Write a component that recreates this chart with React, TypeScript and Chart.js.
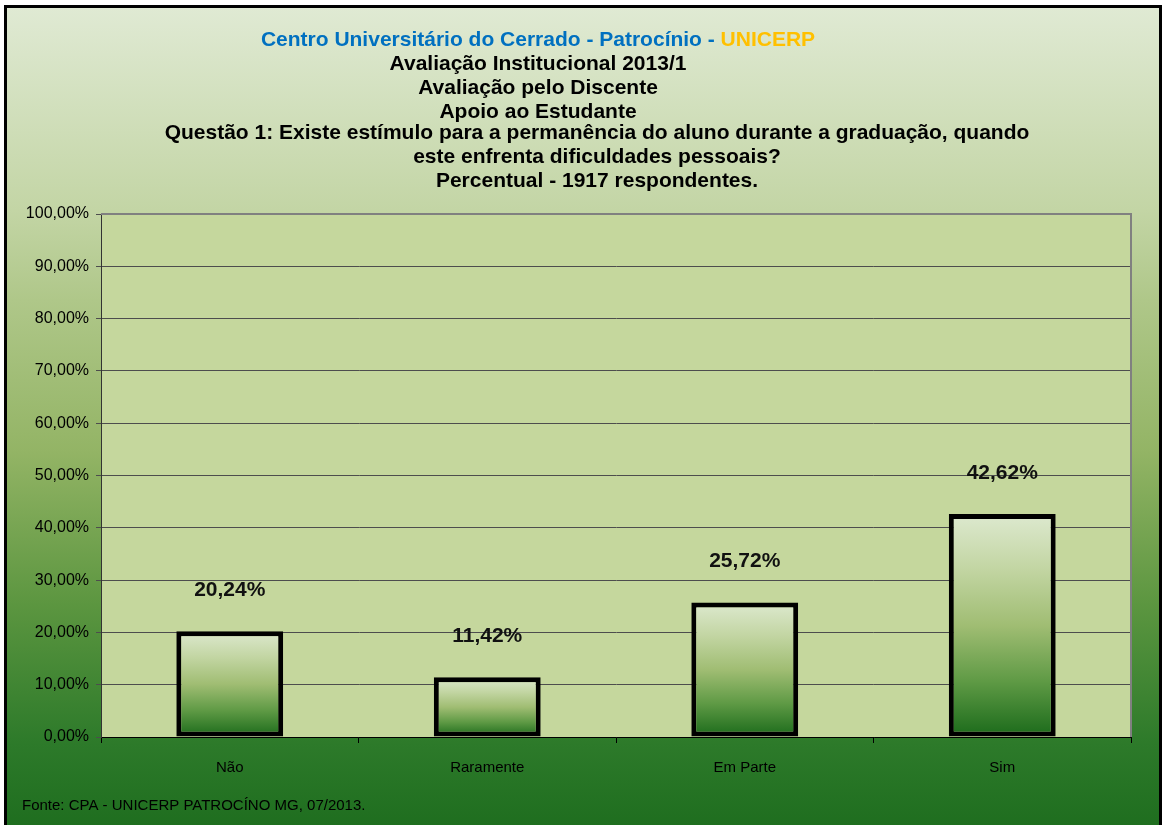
import React, { useEffect, useRef } from "react";
import { Chart, registerables } from "chart.js";

Chart.register(...registerables);

const categories = ["Não", "Raramente", "Em Parte", "Sim"];
const values = [20.24, 11.42, 25.72, 42.62];
const yTicks = [0, 10, 20, 30, 40, 50, 60, 70, 80, 90, 100];

const titleFirstBlue = "Centro Universitário do Cerrado - Patrocínio - ";
const titleFirstYellow = "UNICERP";
const titleGroupA = ["Avaliação Institucional 2013/1", "Avaliação pelo Discente", "Apoio ao Estudante"];
const titleGroupB = [
  "Questão 1: Existe estímulo para a permanência do aluno durante a graduação, quando",
  "este enfrenta dificuldades pessoais?",
  "Percentual - 1917 respondentes.",
];
const footerText = "Fonte: CPA - UNICERP PATROCÍNO MG, 07/2013.";

const FONT = "Arial, 'Liberation Sans', sans-serif";

const fmt = (v: number) => v.toFixed(2).replace(".", ",") + "%";

export default function App() {
  const ref = useRef<HTMLCanvasElement | null>(null);

  useEffect(() => {
    const canvas = ref.current;
    if (!canvas) return;

    const backgroundPlugin = {
      id: "bgPlugin",
      beforeDraw(chart: any) {
        const ctx = chart.ctx as CanvasRenderingContext2D;
        const W = chart.width;
        const H = chart.height;
        ctx.save();
        ctx.fillStyle = "#ffffff";
        ctx.fillRect(0, 0, W, H);
        const g = ctx.createLinearGradient(0, 5, 0, H);
        g.addColorStop(0, "#e0ead4");
        g.addColorStop(0.25, "#c3d5a5");
        g.addColorStop(0.36, "#afc789");
        g.addColorStop(0.545, "#93b465");
        g.addColorStop(0.73, "#5c9640");
        g.addColorStop(0.9, "#2d7a2a");
        g.addColorStop(1, "#1f6e1f");
        ctx.fillStyle = g;
        ctx.fillRect(4, 5, 1158, H + 10);
        ctx.strokeStyle = "#000000";
        ctx.lineWidth = 3;
        ctx.strokeRect(5.5, 6.5, 1155, H + 10);
        const a = chart.chartArea;
        ctx.fillStyle = "#c5d79d";
        ctx.fillRect(a.left, a.top, a.right - a.left, a.bottom - a.top);
        ctx.restore();
      },
      afterDraw(chart: any) {
        const ctx = chart.ctx as CanvasRenderingContext2D;
        const a = chart.chartArea;
        ctx.save();
        ctx.strokeStyle = "#808080";
        ctx.lineWidth = 2;
        ctx.beginPath();
        ctx.moveTo(a.left, a.top);
        ctx.lineTo(a.right, a.top);
        ctx.lineTo(a.right, a.bottom);
        ctx.stroke();

        ctx.textBaseline = "middle";
        ctx.font = `bold 21px ${FONT}`;
        const wBlue = ctx.measureText(titleFirstBlue).width;
        const wYel = ctx.measureText(titleFirstYellow).width;
        const cxA = 538;
        const x0 = cxA - (wBlue + wYel) / 2;
        ctx.textAlign = "left";
        ctx.fillStyle = "#0070c0";
        ctx.fillText(titleFirstBlue, x0, 40);
        ctx.fillStyle = "#ffc000";
        ctx.fillText(titleFirstYellow, x0 + wBlue, 40);
        ctx.fillStyle = "#000000";
        ctx.textAlign = "center";
        const ysA = [64, 88, 112];
        titleGroupA.forEach((t, i) => ctx.fillText(t, cxA, ysA[i]));
        const ysB = [133, 157, 181];
        titleGroupB.forEach((t, i) => ctx.fillText(t, 597, ysB[i]));

        const meta = chart.getDatasetMeta(0);
        ctx.font = `bold 21px ${FONT}`;
        ctx.fillStyle = "#111111";
        meta.data.forEach((el: any, i: number) => {
          ctx.fillText(fmt(values[i]), el.x, el.y - 41);
        });

        ctx.font = `15px ${FONT}`;
        ctx.textAlign = "left";
        ctx.fillStyle = "#000000";
        ctx.fillText(footerText, 22, 806);
        ctx.restore();
      },
    };

    const chart = new Chart(canvas, {
      type: "bar",
      data: {
        labels: categories,
        datasets: [
          {
            data: values,
            borderColor: "#000000",
            borderWidth: 5,
            borderSkipped: false,
            barPercentage: 0.415,
            categoryPercentage: 1,
            backgroundColor: (c: any) => {
              const ch = c.chart;
              if (!ch.chartArea || c.raw === undefined) return "#8fb060";
              const ys = ch.scales.y;
              const top = ys.getPixelForValue(c.raw);
              const bottom = ys.getPixelForValue(0);
              if (!isFinite(top) || !isFinite(bottom) || top === bottom) return "#8fb060";
              const g = ch.ctx.createLinearGradient(0, top, 0, bottom);
              g.addColorStop(0, "#dde9cf");
              g.addColorStop(0.25, "#c2d5a2");
              g.addColorStop(0.5, "#a0bd73");
              g.addColorStop(0.75, "#5f9a45");
              g.addColorStop(1, "#1a6a1a");
              return g;
            },
          },
        ],
      },
      options: {
        responsive: false,
        animation: false,
        devicePixelRatio: 1,
        layout: { padding: { left: 0, top: 214, right: 32, bottom: 0 } },
        plugins: {
          legend: { display: false },
          title: { display: false },
          tooltip: { enabled: false },
        },
        scales: {
          x: {
            offset: true,
            grid: {
              offset: true,
              drawOnChartArea: false,
              color: "#000000",
              tickLength: 6,
            },
            border: { display: true, color: "#000000", width: 1 },
            ticks: {
              color: "#000000",
              font: { family: FONT, size: 15 },
              padding: 16,
            },
            afterFit: (s: any) => {
              s.height = 88;
            },
          },
          y: {
            min: 0,
            max: 100,
            afterBuildTicks: (s: any) => {
              s.ticks = yTicks.map((v) => ({ value: v }));
            },
            grid: {
              color: "#4d4d4d",
              lineWidth: 1,
              tickLength: 5,
            },
            border: { display: true, color: "#333333", width: 1 },
            ticks: {
              color: "#000000",
              font: { family: FONT, size: 16 },
              padding: 7,
              callback: (v: any) => fmt(Number(v)),
            },
            afterFit: (s: any) => {
              s.width = 101;
            },
          },
        },
      },
      plugins: [backgroundPlugin],
    });

    return () => chart.destroy();
  }, []);

  return (
    <div style={{ position: "absolute", left: 0, top: 0, width: 1163, height: 825 }}>
      <canvas ref={ref} width={1163} height={825} style={{ display: "block" }} />
    </div>
  );
}
